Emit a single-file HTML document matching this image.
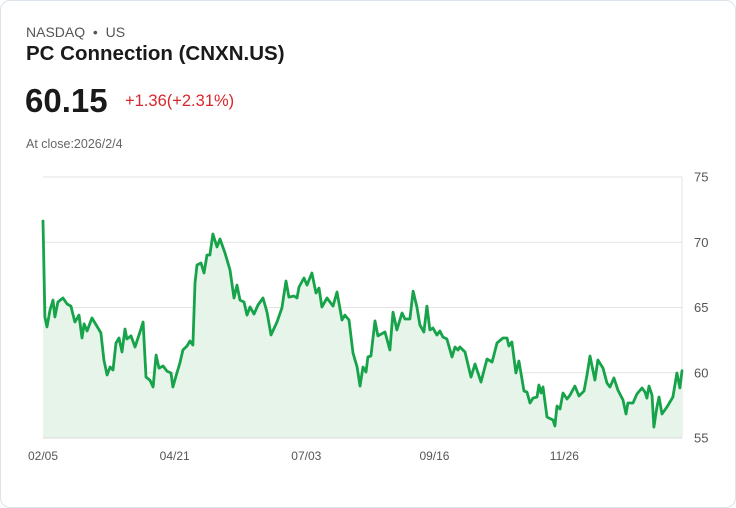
<!DOCTYPE html>
<html><head><meta charset="utf-8"><style>
body{margin:0;background:#fff;font-family:"Liberation Sans",sans-serif;}
.card{position:absolute;left:0;top:0;width:734px;height:506px;border:1px solid #dde3ea;border-radius:10px;background:#fff;}
.t{position:absolute;white-space:nowrap;}
</style></head><body>
<div class="card">
<div class="t" style="left:25px;top:23px;font-size:14px;color:#555;">NASDAQ&nbsp;&nbsp;•&nbsp;&nbsp;US</div>
<div class="t" style="left:25px;top:41px;font-size:20.5px;font-weight:bold;color:#1a1a1a;">PC Connection (CNXN.US)</div>
<div class="t" style="left:24px;top:81px;font-size:33px;font-weight:bold;color:#1a1a1a;">60.15</div>
<div class="t" style="left:124px;top:91px;font-size:16.5px;color:#d9262c;">+1.36(+2.31%)</div>
<div class="t" style="left:25px;top:136px;font-size:12.5px;color:#666;">At close:2026/2/4</div>
<svg id="chart" width="736" height="508" style="position:absolute;left:-1px;top:-1px"></svg>
</div>
<script>
const days=[0,1.1,2.3,4.0,5.7,6.8,8.5,11.4,13.7,15.9,18.2,20.5,22.2,23.4,25.1,27.9,29.6,33.0,34.7,36.5,38.2,39.9,41.6,43.3,45.0,46.7,47.8,50.1,52.4,54.7,57.0,58.7,60.9,62.7,64.4,66.1,68.4,70.6,72.9,74.0,76.3,78.0,79.7,82.0,83.7,85.4,86.6,87.7,90.0,91.7,93.4,95.1,96.8,99.1,100.8,103.7,106.5,108.8,110.5,112.2,114.5,116.2,117.9,120.2,122.5,125.3,127.6,129.9,133.3,136.1,138.4,140.1,143.0,144.7,145.8,148.7,150.4,153.2,155.5,157.2,158.9,161.8,165.2,167.5,170.3,172.0,174.3,176.6,178.9,180.6,182.3,184.0,185.1,186.8,189.1,190.8,194.8,197.6,199.4,201.6,204.5,206.2,209.0,210.8,213.0,214.7,217.0,218.7,220.4,222.1,224.4,226.1,227.8,230.1,233.0,234.7,236.4,237.5,240.4,243.8,246.1,249.5,252.9,255.8,258.6,262.0,264.3,265.4,267.1,269.4,271.1,274.0,275.7,277.4,279.1,281.4,282.5,283.7,284.8,287.1,290.5,291.6,292.8,294.5,296.2,298.5,300.2,303.0,305.3,308.2,309.9,311.6,314.4,316.1,319.0,321.3,323.0,325.2,327.5,330.4,332.1,333.2,336.1,338.3,341.2,342.9,344.0,345.2,346.9,348.0,349.7,350.9,352.6,355.4,358.8,361.1,362.8,364];
const prices=[71.63,64.27,63.51,64.81,65.57,64.27,65.42,65.73,65.27,65.11,63.89,64.42,62.66,63.74,63.20,64.20,63.81,63.05,60.98,59.83,60.44,60.21,62.28,62.66,61.59,63.35,62.59,62.82,61.97,62.89,63.89,59.67,59.44,58.91,61.36,60.36,60.52,60.13,59.98,58.91,59.98,60.75,61.74,62.05,62.43,62.13,66.88,68.26,68.41,67.64,69.02,69.02,70.63,69.64,70.25,69.18,67.87,65.73,66.72,65.57,65.42,64.42,65.04,64.50,65.19,65.73,64.65,62.89,63.89,64.96,67.03,65.80,65.88,65.73,66.57,67.26,66.72,67.64,66.11,66.49,65.04,65.73,65.11,66.19,64.04,64.42,64.04,61.51,60.44,58.98,60.44,60.06,61.21,61.28,63.97,62.82,63.12,61.74,64.65,63.28,64.58,64.12,64.12,66.26,65.04,63.66,63.12,65.11,63.28,63.43,62.89,63.20,62.74,62.59,61.21,61.97,61.74,61.97,61.59,59.67,60.67,59.29,61.05,60.82,62.28,62.66,62.66,62.05,62.36,59.98,60.90,58.60,58.52,57.68,58.06,58.14,59.06,58.45,58.91,56.61,56.38,55.92,57.45,57.22,58.45,57.99,58.29,58.98,58.22,58.60,59.83,61.28,59.44,60.98,60.36,59.21,58.91,59.60,58.68,57.91,56.84,57.68,57.68,58.37,58.83,58.52,58.06,58.98,58.29,55.84,57.37,58.14,56.84,57.37,58.14,59.98,58.83,60.15];
const yTicks=[75,70,65,60,55];
const xTickLabels=["02/05","04/21","07/03","09/16","11/26"];
const xTickDays=[0,75,150,223,297];
const X0=43,X1=682,Y0=177,Y1=438,DMAX=364,VMIN=55,VMAX=75;
const xs=d=>X0+(d/DMAX)*(X1-X0);
const ys=v=>Y0+(VMAX-v)/(VMAX-VMIN)*(Y1-Y0);
const svg=document.getElementById('chart');
const NS='http://www.w3.org/2000/svg';
function mk(t,a){const e=document.createElementNS(NS,t);for(const k in a)e.setAttribute(k,a[k]);svg.appendChild(e);return e;}
yTicks.forEach(v=>{
 const l=mk('line',{x1:X0,x2:X1,y1:ys(v),y2:ys(v),stroke:'#e3e3e3','stroke-width':1});
 
 
 const t=mk('text',{x:694,y:ys(v)+4.5,'font-size':13,fill:'#555','font-family':'Liberation Sans, sans-serif'});
 t.textContent=v;
 
 
});
const ax=mk('line',{x1:X1,x2:X1,y1:Y0,y2:Y1,stroke:'#e3e3e3','stroke-width':1});


xTickLabels.forEach((s,i)=>{
 const t=mk('text',{x:xs(xTickDays[i]),y:460,'font-size':12,fill:'#555','text-anchor':'middle','font-family':'Liberation Sans, sans-serif'});
 t.textContent=s;
 
 
});
let d='';
days.forEach((dd,i)=>{d+=(i?'L':'M')+xs(dd).toFixed(1)+' '+ys(prices[i]).toFixed(1);});
const area=mk('path',{d:d+`L${xs(days[days.length-1])} ${Y1}L${X0} ${Y1}Z`,fill:'#e6f4ea'});


const base=mk('line',{x1:X0,x2:X1,y1:Y1,y2:Y1,stroke:'#d8dcd8','stroke-width':1});


const line=mk('path',{d:d,fill:'none',stroke:'#16a34a','stroke-width':2.8,'stroke-linejoin':'round','stroke-linecap':'round'});


</script>
</body></html>
